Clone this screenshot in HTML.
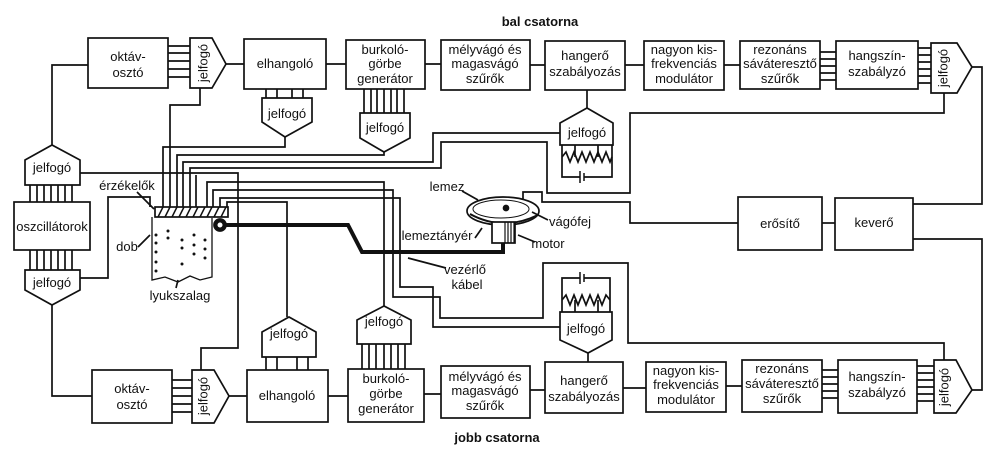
<!DOCTYPE html>
<html><head><meta charset="utf-8"><style>
html,body{margin:0;padding:0;background:#fff}
svg{display:block}
text{font-family:"Liberation Sans",Arial,sans-serif;font-size:13px;fill:#111}
.b{font-weight:bold}
</style></head><body>
<svg width="999" height="450" viewBox="0 0 999 450" xmlns="http://www.w3.org/2000/svg">
<g fill="none" stroke="#111" stroke-width="1.7">
<rect x="88" y="38" width="80" height="50"/>
<polygon points="190,38 212,38 226,64 212,88 190,88"/>
<rect x="244" y="39" width="82" height="50"/>
<rect x="346" y="40" width="79" height="49"/>
<rect x="441" y="40" width="89" height="50"/>
<rect x="545" y="41" width="80" height="49"/>
<rect x="644" y="41" width="80" height="49"/>
<rect x="740" y="41" width="80" height="48"/>
<rect x="836" y="41" width="82" height="48"/>
<polygon points="931,43 957,43 972,67 957,93 931,93"/>
<path d="M168,46H190M168,53H190M168,61H190M168,69H190M168,77H190"/>
<path d="M226,64H244M326,64H346M425,64H441M530,65H545M625,65H644M724,65H740"/>
<path d="M820,52H836M820,59H836M820,66H836M820,73H836M820,80H836"/>
<path d="M918,48H931M918,55H931M918,62H931M918,69H931M918,76H931M918,83H931"/>
<polygon points="262,98 312,98 312,122 285,137 262,122"/>
<path d="M266,89V98M277,89V98M292,89V98M303,89V98"/>
<polygon points="360,113 410,113 410,138 384,152 360,138"/>
<path d="M364,89V113M371,89V113M377,89V113M384,89V113M391,89V113M397,89V113M404,89V113"/>
<polygon points="560,123 587,108 613,123 613,145 560,145"/>
<path d="M587,90V108"/>
<path d="M562,145V177H580M584,177H612V145M575,145V157M598,145V157"/>
<path d="M580,171V183M584,173V181" stroke-width="1.5"/>
<polyline points="562,157 566,152 570,162 574,152 578,162 582,152 586,162 590,152 594,162 598,152 602,162 606,152 610,162 612,157"/>
<polygon points="25,185 25,160 52,145 80,160 80,185"/>
<path d="M52,145V65H88"/>
<path d="M30,185V202M37,185V202M44,185V202M51,185V202M58,185V202M65,185V202M72,185V202"/>
<rect x="14" y="202" width="76" height="48"/>
<path d="M30,250V270M37,250V270M44,250V270M51,250V270M58,250V270M65,250V270M72,250V270"/>
<polygon points="25,270 80,270 80,290 52,305 25,290"/>
<path d="M52,305V396H92"/>
<path d="M80,278H108V197H150V207"/>
<path d="M80,173H238V348H201V370"/>
<rect x="92" y="370" width="80" height="53"/>
<polygon points="192,370 214,370 229,396 214,423 192,423"/>
<rect x="247" y="370" width="81" height="52"/>
<rect x="348" y="369" width="76" height="53"/>
<rect x="441" y="366" width="89" height="52"/>
<rect x="545" y="362" width="78" height="51"/>
<rect x="646" y="362" width="80" height="50"/>
<rect x="742" y="360" width="80" height="52"/>
<rect x="838" y="360" width="79" height="53"/>
<polygon points="934,360 956,360 972,390 956,413 934,413"/>
<path d="M172,380H192M172,388H192M172,396H192M172,404H192M172,412H192"/>
<path d="M229,396H247M328,396H348M424,394H441M530,390H545M623,388H646M726,386H742"/>
<path d="M822,370H838M822,377H838M822,384H838M822,391H838M822,398H838"/>
<path d="M917,366H934M917,373H934M917,380H934M917,387H934M917,394H934M917,401H934"/>
<polygon points="262,357 262,332 289,317 316,332 316,357"/>
<path d="M266,357V370M277,357V370M297,357V370M308,357V370"/>
<polygon points="357,344 357,320 384,306 411,320 411,344"/>
<path d="M362,344V369M369,344V369M376,344V369M384,344V369M391,344V369M398,344V369M405,344V369"/>
<polygon points="560,312 612,312 612,340 588,353 560,340"/>
<path d="M588,353V362"/>
<path d="M562,312V278H580M584,278H610V312M575,312V300M598,312V300"/>
<path d="M580,272V284M584,274V282" stroke-width="1.5"/>
<polyline points="562,300 566,295 570,305 574,295 578,305 582,295 586,305 590,295 594,305 598,295 602,305 606,295 610,300"/>
<rect x="738" y="197" width="84" height="53"/>
<rect x="835" y="198" width="78" height="52"/>
<path d="M822,223H835"/>
<path d="M913,204H982V67H972M913,239H982V390H972"/>
<path d="M944,93V113H630V193H547V142H441V168H190V207"/>
<path d="M523,212V192H542V202H630V223H738"/>
<path d="M560,133H433V162H183V207"/>
<path d="M163,207V147H285V137"/>
<path d="M170,207V105H200V88"/>
<path d="M177,207V155H384V152"/>
<path d="M196,207V175"/>
<path d="M207,207V182H384V306"/>
<path d="M213,207V190H393V297H440V318H543V263H628V343H944V360"/>
<path d="M220,207V198H400V287H433V327H560"/>
<path d="M227,207V202H287V317"/>
<rect x="155" y="207" width="73" height="10" fill="#fff"/>
<path d="M158,217l5,-10M165,217l5,-10M172,217l5,-10M179,217l5,-10M186,217l5,-10M193,217l5,-10M200,217l5,-10M207,217l5,-10M214,217l5,-10M221,217l5,-10" stroke-width="1.5"/>
<path d="M152,217V280L165,277L178,282L190,276L200,280L212,277V218" stroke-width="1.3"/>
<circle cx="220" cy="225" r="6" fill="#111"/>
<circle cx="220" cy="225" r="2.5" fill="#fff" stroke="none"/>
<path d="M226,225H348L362,252H503V243" stroke-width="4"/>
<ellipse cx="503" cy="211" rx="36" ry="14" fill="#fff"/>
<ellipse cx="501" cy="209" rx="28" ry="9" stroke-width="1"/>
<path d="M470,214Q503,232 538,215" stroke-width="2"/>
<rect x="492" y="222" width="23" height="21" fill="#fff"/>
<path d="M505,222V243M508,222V243M511,222V243M514,222V243" stroke-width="1.2"/>
<circle cx="506" cy="208" r="2.5" fill="#111"/>
<path d="M137,192L154,209M138,247L150,235M462,191L478,200M475,238L482,228M535,242L518,235M548,220L532,212M446,268L408,258"/>
<path d="M176,288L178,280" />
</g>
<g fill="#111">
<circle cx="156" cy="235" r="1.5"/><circle cx="156" cy="243" r="1.5"/><circle cx="156" cy="252" r="1.5"/><circle cx="156" cy="262" r="1.5"/><circle cx="156" cy="271" r="1.5"/>
<circle cx="168" cy="231" r="1.5"/><circle cx="168" cy="238" r="1.5"/><circle cx="182" cy="240" r="1.5"/><circle cx="182" cy="248" r="1.5"/><circle cx="182" cy="264" r="1.5"/>
<circle cx="194" cy="235" r="1.5"/><circle cx="194" cy="245" r="1.5"/><circle cx="194" cy="254" r="1.5"/><circle cx="205" cy="240" r="1.5"/><circle cx="205" cy="249" r="1.5"/><circle cx="205" cy="258" r="1.5"/>
</g>
<g text-anchor="middle">
<text x="540" y="26" class="b">bal csatorna</text>
<text x="497" y="442" class="b">jobb csatorna</text>
<text x="128" y="61">oktáv-</text><text x="128" y="77">osztó</text>
<text x="204" y="63" transform="rotate(-90 204 63)" dominant-baseline="middle">jelfogó</text>
<text x="285" y="68">elhangoló</text>
<text x="385" y="54">burkoló-</text><text x="385" y="68">görbe</text><text x="385" y="83">generátor</text>
<text x="485" y="54">mélyvágó és</text><text x="485" y="68">magasvágó</text><text x="485" y="83">szűrők</text>
<text x="585" y="60">hangerő</text><text x="585" y="76">szabályozás</text>
<text x="684" y="54">nagyon kis-</text><text x="684" y="68">frekvenciás</text><text x="684" y="83">modulátor</text>
<text x="780" y="54">rezonáns</text><text x="780" y="68">sáváteresztő</text><text x="780" y="83">szűrők</text>
<text x="877" y="60">hangszín-</text><text x="877" y="76">szabályzó</text>
<text x="944" y="68" transform="rotate(-90 944 68)" dominant-baseline="middle">jelfogó</text>
<text x="287" y="118">jelfogó</text>
<text x="385" y="132">jelfogó</text>
<text x="587" y="137">jelfogó</text>
<text x="52" y="172">jelfogó</text>
<text x="52" y="231">oszcillátorok</text>
<text x="52" y="287">jelfogó</text>
<text x="132" y="393">oktáv-</text><text x="132" y="409">osztó</text>
<text x="204" y="396" transform="rotate(-90 204 396)" dominant-baseline="middle">jelfogó</text>
<text x="287" y="400">elhangoló</text>
<text x="386" y="383">burkoló-</text><text x="386" y="398">görbe</text><text x="386" y="413">generátor</text>
<text x="485" y="381">mélyvágó és</text><text x="485" y="395">magasvágó</text><text x="485" y="410">szűrők</text>
<text x="584" y="385">hangerő</text><text x="584" y="401">szabályozás</text>
<text x="686" y="375">nagyon kis-</text><text x="686" y="389">frekvenciás</text><text x="686" y="404">modulátor</text>
<text x="782" y="373">rezonáns</text><text x="782" y="388">sáváteresztő</text><text x="782" y="403">szűrők</text>
<text x="877" y="381">hangszín-</text><text x="877" y="397">szabályzó</text>
<text x="945" y="387" transform="rotate(-90 945 387)" dominant-baseline="middle">jelfogó</text>
<text x="289" y="338">jelfogó</text>
<text x="384" y="326">jelfogó</text>
<text x="586" y="333">jelfogó</text>
<text x="780" y="228">erősítő</text>
<text x="874" y="227">keverő</text>
<text x="127" y="190">érzékelők</text>
<text x="127" y="251">dob</text>
<text x="180" y="300">lyukszalag</text>
<text x="447" y="191">lemez</text>
<text x="437" y="240">lemeztányér</text>
<text x="570" y="226">vágófej</text>
<text x="548" y="248">motor</text>
<text x="465" y="274">vezérlő</text>
<text x="467" y="289">kábel</text>
</g>
</svg>
</body></html>
